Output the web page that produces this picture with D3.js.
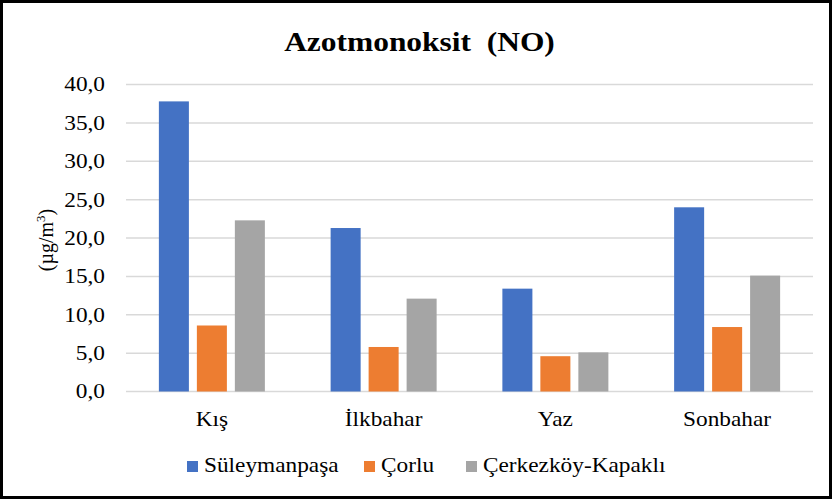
<!DOCTYPE html>
<html>
<head>
<meta charset="utf-8">
<script src="https://cdn.jsdelivr.net/npm/d3@7"></script>
</head>
<body style="margin:0">
<svg id="chart" width="833" height="500" font-family="Liberation Serif"></svg>
<script>
const seasons = ["Kış", "İlkbahar", "Yaz", "Sonbahar"];
const stations = ["Süleymanpaşa", "Çorlu", "Çerkezköy-Kapaklı"];
const suleymanpasa = [37.8, 21.3, 13.4, 24.0];
const corlu = [8.6, 5.8, 4.6, 8.4];
const cerkezkoy = [22.3, 12.1, 5.1, 15.1];
const yTicks = [0, 5, 10, 15, 20, 25, 30, 35, 40];
const colors = ["#4472c4", "#ed7d31", "#a5a5a5"];

const series = [suleymanpasa, corlu, cerkezkoy];
const margin = {top: 84.5, left: 126, right: 20, bottom: 108.5};
const W = 833, H = 500;
const stretch = 1.165; // the source picture's text is wider than plain Times

const svg = d3.select("#chart");

function serif(sel, size, weight) {
  return sel
    .attr("font-family", "Liberation Serif")
    .style("font-family", '"Liberation Serif"')
    .style("font-size", size + "px")
    .style("font-weight", weight || "normal")
    .attr("fill", "#000");
}

// widen text around its anchor point
function widen(sel) {
  sel.each(function () {
    const t = d3.select(this);
    const ax = +t.attr("x") || 0;
    t.attr("transform", `translate(${ax},0) scale(${stretch},1) translate(${-ax},0)`);
  });
  return sel;
}

// frame
svg.append("rect")
  .attr("x", 1.5).attr("y", 1.5)
  .attr("width", W - 4).attr("height", H - 4)
  .attr("fill", "#fff").attr("stroke", "#000").attr("stroke-width", 3);

const x = d3.scaleBand()
  .domain(seasons)
  .range([margin.left, W - margin.right]);

const x1 = d3.scaleBand()
  .domain(stations)
  .range([0, 106])
  .paddingInner(0.21);

const y = d3.scaleLinear()
  .domain([0, 40])
  .range([H - margin.bottom, margin.top]);

// gridlines
svg.append("g")
  .selectAll("line")
  .data(yTicks)
  .join("line")
  .attr("x1", margin.left).attr("x2", W - margin.right)
  .attr("y1", d => y(d)).attr("y2", d => y(d))
  .attr("stroke", "#d9d9d9").attr("stroke-width", 1.5);

// y tick labels
widen(serif(svg.append("g")
  .selectAll("text")
  .data(yTicks)
  .join("text")
  .attr("x", margin.left - 21)
  .attr("y", d => y(d) + 7)
  .attr("text-anchor", "end")
  .text(d => d3.format(".1f")(d).replace(".", ",")), 20));

// bars
const groups = svg.append("g")
  .selectAll("g")
  .data(seasons)
  .join("g")
  .attr("transform", d => `translate(${x(d) + (x.bandwidth() - 106) / 2},0)`);

groups.selectAll("rect")
  .data((d, i) => stations.map((s, j) => ({station: s, value: series[j][i], color: colors[j]})))
  .join("rect")
  .attr("x", d => x1(d.station))
  .attr("width", x1.bandwidth())
  .attr("y", d => y(d.value))
  .attr("height", d => y(0) - y(d.value))
  .attr("fill", d => d.color);

// x category labels
widen(serif(svg.append("g")
  .selectAll("text")
  .data(seasons)
  .join("text")
  .attr("x", d => x(d) + x.bandwidth() / 2)
  .attr("y", y(0) + 35)
  .attr("text-anchor", "middle")
  .text(d => d), 20));

// title
widen(serif(svg.append("text")
  .attr("x", 419.5).attr("y", 51)
  .attr("text-anchor", "middle")
  .text("Azotmonoksit\u00a0\u00a0(NO)"), 27, "bold"));

// y axis title
const yt = serif(svg.append("text")
  .attr("transform", "translate(53,240) rotate(-90)")
  .attr("text-anchor", "middle"), 20);
yt.append("tspan").text("(µg/m");
yt.append("tspan").style("font-size", "13px").attr("dy", -8).text("3");
yt.append("tspan").attr("dy", 8).text(")");

// legend
const legendX = [187, 364, 466];
const legend = svg.append("g")
  .selectAll("g")
  .data(stations)
  .join("g")
  .attr("transform", (d, i) => `translate(${legendX[i]},461)`);
legend.append("rect")
  .attr("x", 0).attr("y", 0).attr("width", 11).attr("height", 11)
  .attr("fill", (d, i) => colors[i]);
widen(serif(legend.append("text")
  .attr("x", 17).attr("y", 11)
  .text(d => d), 20));
</script>
</body>
</html>
